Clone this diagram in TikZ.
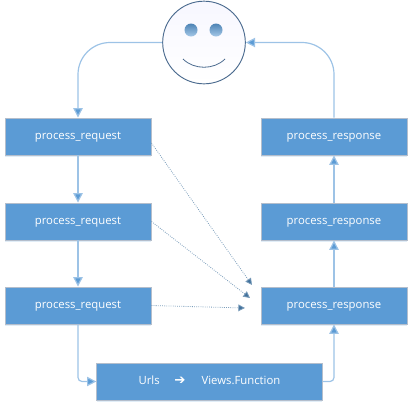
\documentclass[tikz,border=0pt]{standalone}
\usepackage{fontspec}
\setmainfont{Open Sans}
\newfontfamily\arrowfont{DejaVu Sans}
\usetikzlibrary{arrows.meta, positioning, shadows}
\definecolor{boxblue}{HTML}{5B9BD5}
\definecolor{boxedge}{HTML}{B4BECC}
\definecolor{linkblue}{HTML}{9DC3E6}
\definecolor{tipblue}{HTML}{5B9BD5}
\definecolor{hintblue}{HTML}{41719C}
\definecolor{faceedge}{HTML}{4A6A8E}

\begin{document}
\begin{tikzpicture}[x=0.75pt, y=-0.75pt,
    step box/.style={draw=boxedge, fill=boxblue, line width=0.7pt,
                minimum width=109.5pt, minimum height=27.75pt, inner sep=0pt,
                text height=6.5pt, text depth=1.3pt,
                font=\fontsize{8.5pt}{10pt}\selectfont, text=white,
                drop shadow={shadow xshift=0pt, shadow yshift=-1.2pt, opacity=0.18, fill=boxblue}},
    link/.style={-{Triangle[length=7pt, width=7pt, fill=tipblue]}, line width=0.9pt, linkblue},
    hint/.style={-{Triangle[length=5pt, width=5pt, fill=hintblue]}, densely dotted, line width=0.6pt, hintblue!70},
    eye/.style={circle, minimum size=9.75pt, inner sep=0pt, top color=boxblue!85!black, bottom color=boxblue!55!white},
]
    \useasboundingbox (0, 0) rectangle (413, 408);

    \node[circle, draw=faceedge, line width=0.7pt, top color=blue!3, bottom color=white,
          minimum size=62pt, inner sep=0pt] (face) at (204, 42.5) {};
    \node[eye] (eyeL) at (191, 30) {};
    \node[eye] (eyeR) at (216, 30) {};
    \coordinate (smileL) at (183, 59);
    \coordinate (smileR) at (225, 59);
    \draw[faceedge, line width=0.6pt] (smileL) .. controls (194, 70) and (214, 70) .. (smileR);

    \node[step box] (req1) at (78, 136.5) {process\_request};
    \node[step box] (req2) at (78, 221.5) {process\_request};
    \node[step box] (req3) at (78, 305.5) {process\_request};

    \node[step box] (resp1) at (334, 136.5) {process\_response};
    \node[step box] (resp2) at (334, 221.5) {process\_response};
    \node[step box] (resp3) at (334, 305.5) {process\_response};

    \node[step box, minimum width=169pt] (urls) at (209.5, 381.5)
        {Urls\hspace{11pt}{\arrowfont\bfseries\fontsize{10pt}{10pt}\selectfont ➔}\hspace{12pt}Views.Function};

    \draw[link, rounded corners=24pt] (face.west) -| (req1.north);
    \draw[link] (req1) -- (req2);
    \draw[link] (req2) -- (req3);
    \draw[link, rounded corners=3pt] (req3.south) |- (urls.west);
    \draw[link, rounded corners=3pt] (urls.east) -| (resp3.south);
    \draw[link] (resp3) -- (resp2);
    \draw[link] (resp2) -- (resp1);
    \draw[link, rounded corners=24pt] (resp1.north) |- (face.east);

    % free ends stop short of the box
    \coordinate (hint1) at (252, 285);
    \coordinate (hint2) at (250, 298);
    \coordinate (hint3) at (245, 308);
    \draw[hint] (req1.east |- 0, 143) -- (hint1);
    \draw[hint] (req2.east) -- (hint2);
    \draw[hint] (req3.east) -- (hint3);
\end{tikzpicture}
\end{document}
